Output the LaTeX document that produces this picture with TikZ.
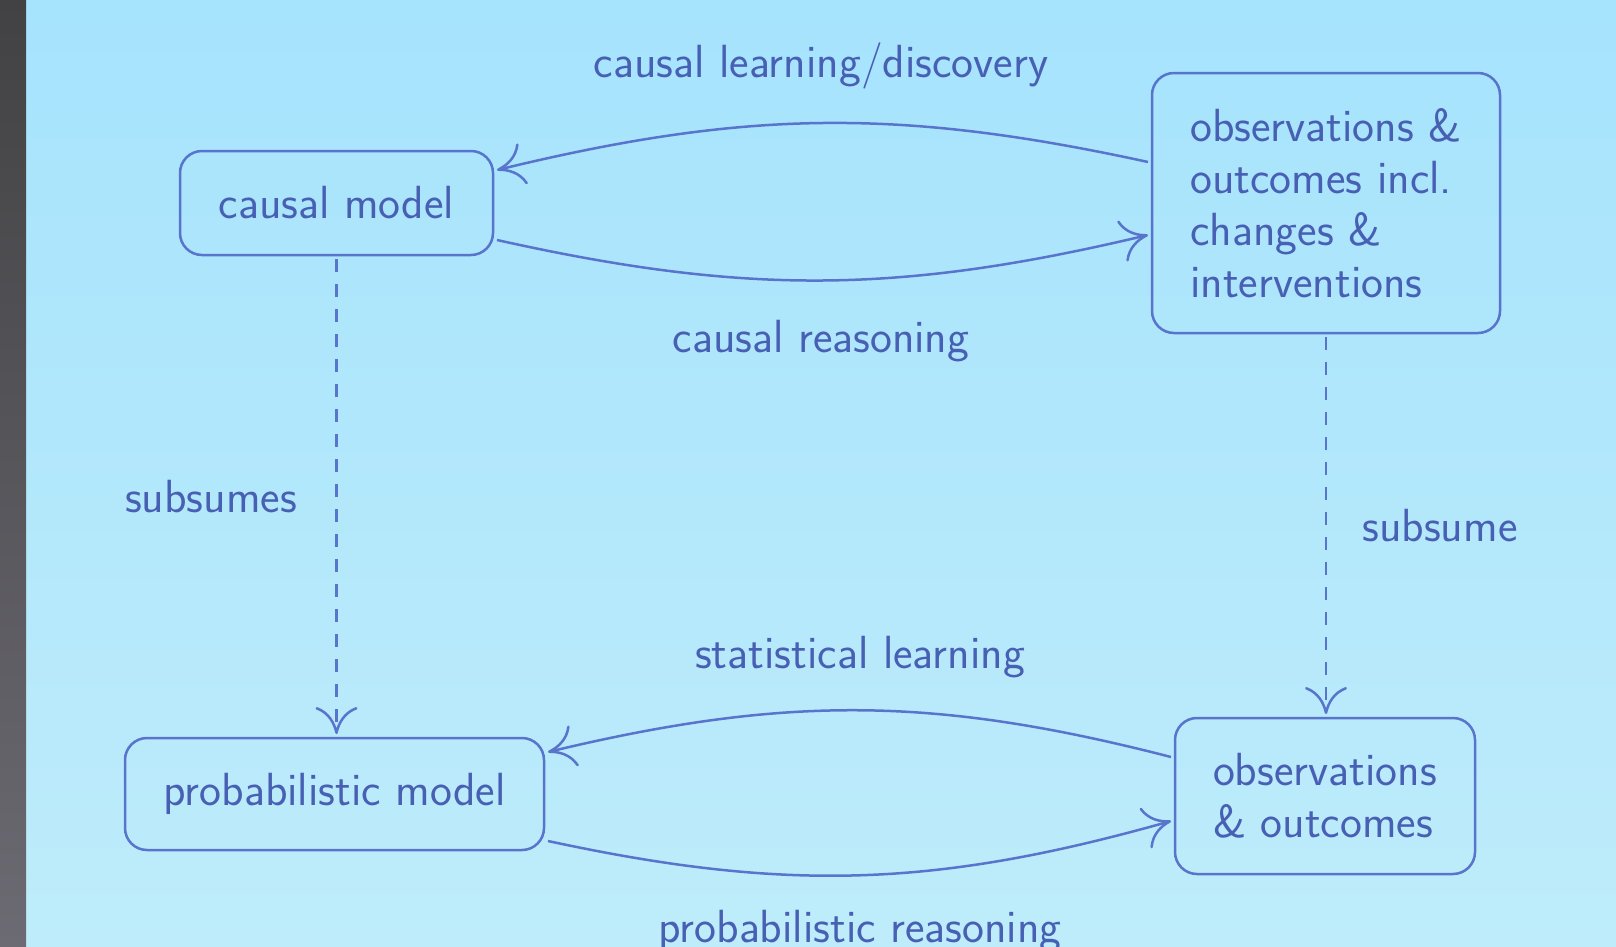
\documentclass[tikz,border=0pt]{standalone}
\usepackage{fontspec}
\usetikzlibrary{arrows.meta,bending}
\definecolor{bgtop}{RGB}{166,227,253}
\definecolor{bgbot}{RGB}{190,236,250}
\definecolor{ink}{RGB}{72,96,180}
\definecolor{linec}{RGB}{88,116,204}
\definecolor{striptop}{RGB}{66,66,68}
\definecolor{stripbot}{RGB}{108,106,114}
\begin{document}
\begin{tikzpicture}[x=1pt,y=-1pt,
  every node/.style={font=\fontsize{46.5}{52}\selectfont\sffamily, text=ink},
  box/.style={draw=linec, line width=2.5pt, rounded corners=22pt, outer sep=4pt, inner sep=0pt, align=center},
  conn/.style={draw=linec, line width=2.5pt, -{Computer Modern Rightarrow[length=27pt,width=42pt]}},
  dconn/.style={conn, dash pattern=on 13pt off 12pt},
  lbl/.style={inner sep=0pt, anchor=base}]
\fill[top color=bgtop,bottom color=bgbot] (0,0) rectangle (1616,946);
\fill[top color=striptop,bottom color=stripbot] (0,0) rectangle (26,946);
\useasboundingbox (0,0) rectangle (1616,946);

\node[box, minimum width=313pt, minimum height=104pt] (cm) at (336.5,203) {causal model};
\node[box, minimum width=348pt, minimum height=260pt, align=left] (obs1) at (1326,203) {observations \&\\ outcomes incl.\\ changes \&\\ interventions};
\node[box, minimum width=419pt, minimum height=112pt] (pm) at (334.5,794) {probabilistic model};
\node[box, minimum width=300pt, minimum height=156pt, align=left] (obs2) at (1325,796) {observations\\ \& outcomes};

\draw[conn] ([yshift=41pt]obs1.west) to[bend right=13] ([yshift=33pt]cm.east);
\draw[conn] ([yshift=-37pt]cm.east) to[bend right=13] ([yshift=-32pt]obs1.west);
\draw[conn] ([yshift=39pt]obs2.west) to[bend right=14] ([yshift=42pt]pm.east);
\draw[conn] ([yshift=-47pt]pm.east) to[bend right=14] ([yshift=-25pt]obs2.west);
\draw[dconn] (cm.south) -- (cm.south |- pm.north);
\draw[dconn] (obs1.south) -- (obs1.south |- obs2.north);

\node[lbl] (l1) at (821,77) {causal learning/discovery};
\node[lbl] (l2) at (821,352) {causal reasoning};
\node[lbl] (l3) at (211,512) {subsumes};
\node[lbl] (l4) at (1440,541) {subsume};
\node[lbl] (l5) at (860,668) {statistical learning};
\node[lbl] (l6) at (860,942) {probabilistic reasoning};
\end{tikzpicture}
\end{document}
